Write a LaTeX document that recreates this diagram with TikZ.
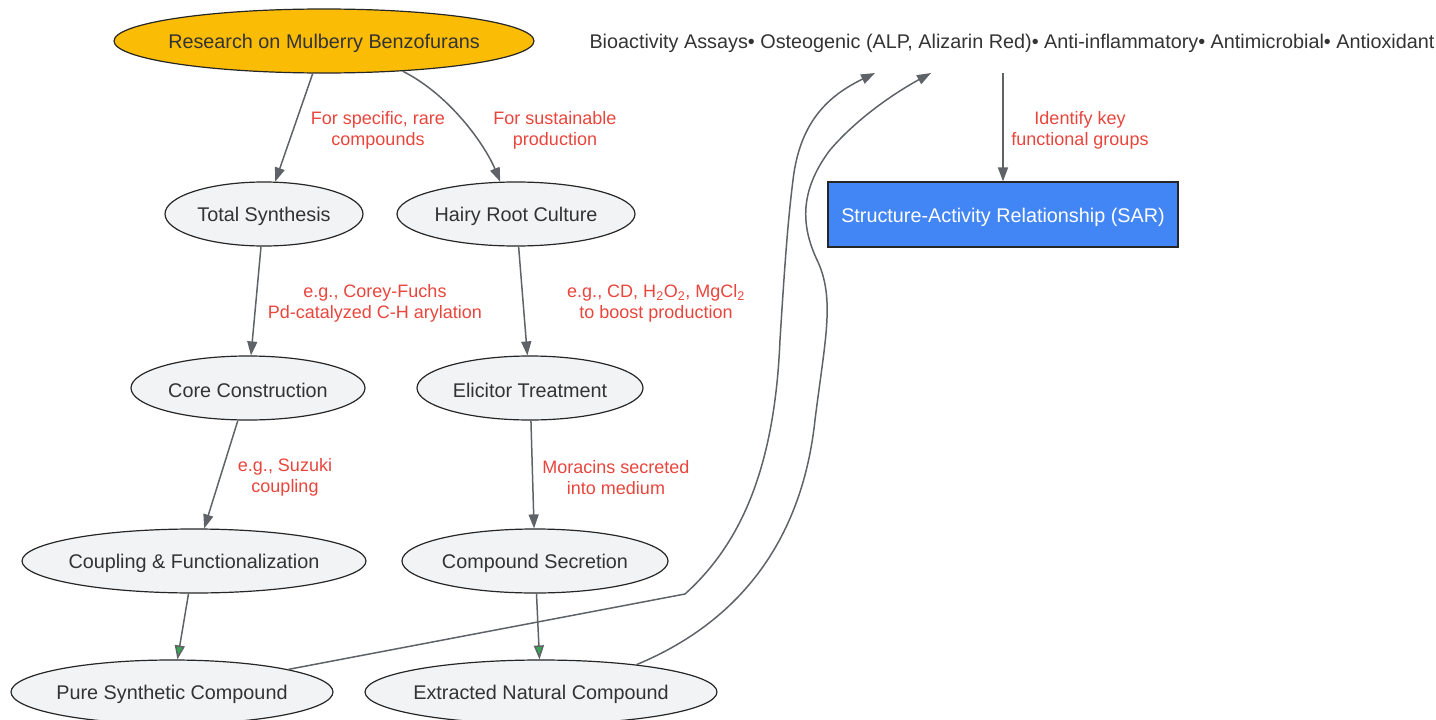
\documentclass[tikz,border=0pt]{standalone}
\usepackage{fontspec}
\setmainfont{Liberation Sans}
\usetikzlibrary{shapes.geometric,arrows.meta}
\definecolor{edgec}{HTML}{5F6368}
\definecolor{labc}{HTML}{E8453C}
\definecolor{nodefill}{HTML}{F1F3F4}
\definecolor{gold}{HTML}{FBBC05}
\definecolor{blu}{HTML}{4285F4}
\definecolor{grn}{HTML}{34A853}
\definecolor{txt}{HTML}{333333}
\begin{document}
\begin{tikzpicture}[x=1pt,y=-1pt,
  ell/.style={ellipse, draw=black!85, line width=1.2pt, fill=nodefill, minimum height=64pt, inner sep=0pt},
  ntext/.style={font=\fontsize{19.8}{24}\selectfont, text=txt, yshift=-2.5pt},
  elab/.style={font=\fontsize{18}{21}\selectfont, text=labc, align=center, yshift=-2.5pt},
  edge/.style={draw=edgec, line width=1.5pt, -{Triangle[length=14pt,width=10pt]}},
  gedge/.style={draw=edgec, line width=1.5pt, -{Triangle[length=14pt,width=10pt,fill=grn]}}
]
\useasboundingbox (0,0) rectangle (1436,720);
% nodes
\node[ell, fill=gold, minimum width=420pt, label={[ntext]center:Research on Mulberry Benzofurans}] (res) at (324,41) {};
\node[minimum height=64pt, minimum width=840pt, inner sep=0pt, label={[ntext]center:Bioactivity Assays• Osteogenic (ALP, Alizarin Red)• Anti-inflammatory• Antimicrobial• Antioxidant}] (bio) at (1012,41) {};
\node[ell, minimum width=198pt, label={[ntext]center:Total Synthesis}] (ts) at (264,214) {};
\node[ell, minimum width=238pt, label={[ntext]center:Hairy Root Culture}] (hr) at (516,214) {};
\node[ell, minimum width=234pt, label={[ntext]center:Core Construction}] (cc) at (248,388) {};
\node[ell, minimum width=226pt, label={[ntext]center:Elicitor Treatment}] (et) at (530,388) {};
\node[ell, minimum width=344pt, label={[ntext]center:Coupling \& Functionalization}] (cf) at (194,561) {};
\node[ell, minimum width=266pt, label={[ntext]center:Compound Secretion}] (cs) at (535,561) {};
\node[ell, minimum width=322pt, label={[ntext]center:Pure Synthetic Compound}] (ps) at (172,692) {};
\node[ell, minimum width=352pt, label={[ntext]center:Extracted Natural Compound}] (en) at (541,692) {};
\node[rectangle, draw=black!85, line width=1.2pt, fill=blu, minimum width=350pt, minimum height=65pt, inner sep=0pt, label={[ntext, text=white]center:Structure-Activity Relationship (SAR)}] (sar) at (1003,214.5) {};
\coordinate (b1) at (875,73);
\coordinate (b2) at (931,73);
% edge labels
\node[elab] (l1) at (378,128) {For specific, rare\\compounds};
\node[elab] (l2) at (555,128) {For sustainable\\production};
\node[elab] (l3) at (375,301) {e.g., Corey-Fuchs\\Pd-catalyzed C-H arylation};
\node[elab] (l4) at (656,301) {e.g., CD, H\textsubscript{2}O\textsubscript{2}, MgCl\textsubscript{2}\\to boost production};
\node[elab] (l5) at (285,475) {e.g., Suzuki\\coupling};
\node[elab] (l6) at (616,475) {Moracins secreted\\into medium};
\node[elab] (l7) at (1080,128) {Identify key\\functional groups};
% edges
\draw[edge] (res) -- (ts);
\draw[edge] (res.-21) .. controls (450,95) and (485,145) .. (hr.116);
\draw[edge] (ts) -- (cc);
\draw[edge] (hr) -- (et);
\draw[edge] (cc) -- (cf);
\draw[edge] (et) -- (cs);
\draw[gedge] (cf) -- (ps);
\draw[gedge] (cs) -- (en);
\draw[edge] (bio.south -| sar.north) -- (sar.north);
\draw[edge] (ps.11) -- (685,594) .. controls (745,540) and (775,460) .. (780,340)
  .. controls (785,260) and (788,220) .. (793,180)
  .. controls (800,120) and (830,95) .. (b1);
\draw[edge] (en.16) .. controls (720,630) and (800,560) .. (815,420)
  .. controls (825,340) and (835,300) .. (818,262)
  .. controls (800,225) and (800,190) .. (830,150)
  .. controls (860,115) and (900,90) .. (b2);
\end{tikzpicture}
\end{document}
